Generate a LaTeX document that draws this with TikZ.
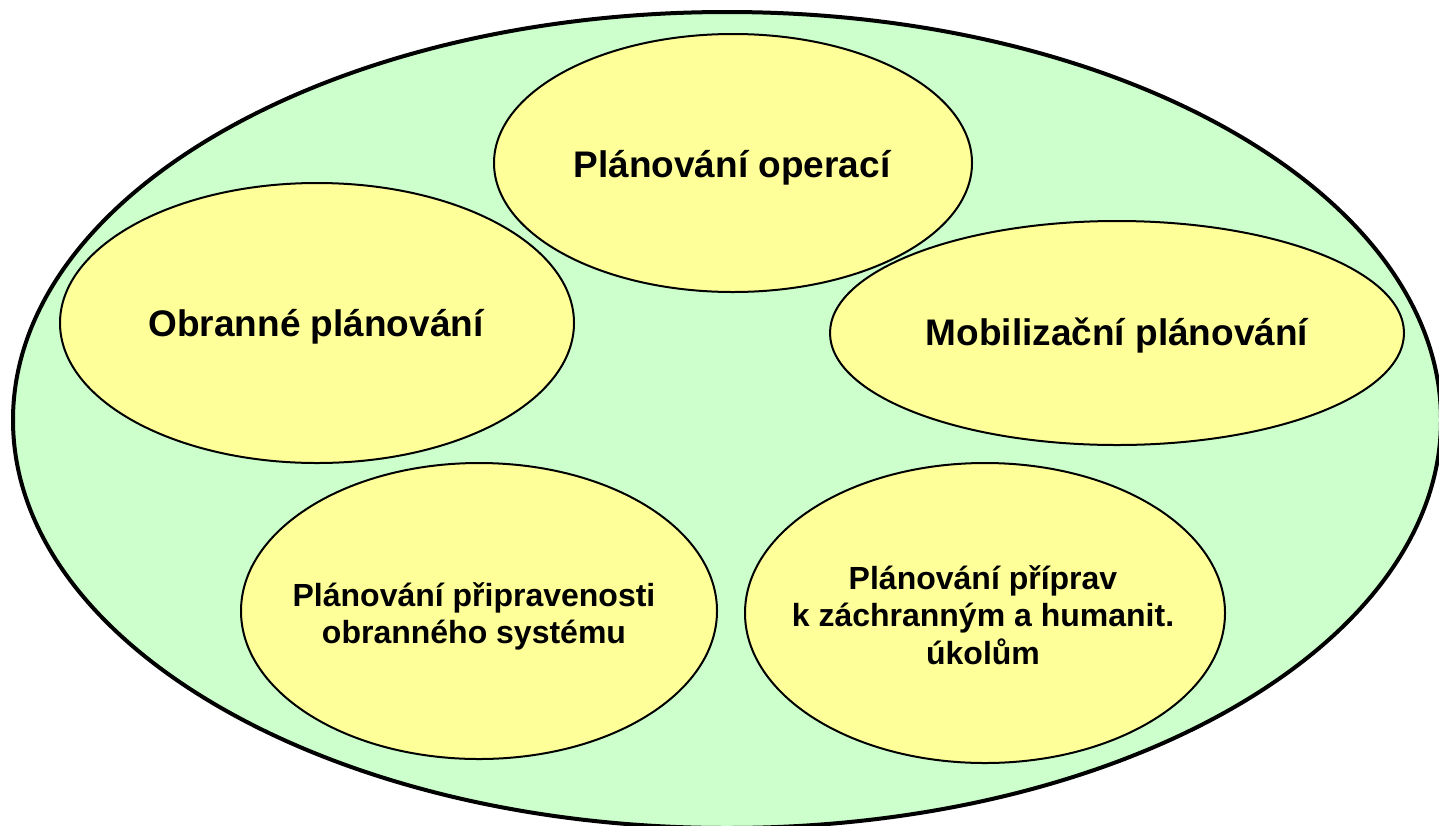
\documentclass[tikz,border=0pt]{standalone}
\usepackage{fontspec}
\setmainfont{Liberation Sans}
\usetikzlibrary{shapes.geometric}
\definecolor{planGreen}{HTML}{CCFFCC}
\definecolor{planYellow}{HTML}{FFFF99}
\begin{document}
\begin{tikzpicture}[x=0.5pt,y=-0.5pt,
  outer/.style={ellipse,draw,line width=2pt,fill=planGreen,inner sep=0pt},
  bubble/.style={ellipse,draw,line width=1pt,fill=planYellow,inner sep=0pt},
  bigtext/.style={font=\fontsize{18.5}{21}\selectfont\bfseries,align=center},
  smalltext/.style={font=\fontsize{16}{18.6}\selectfont\bfseries,align=center}]
\useasboundingbox (0,0) rectangle (1439,825);
\node[outer,minimum width=714pt,minimum height=408pt] (all) at (727,420) {};
% the five kinds of planning
\node[bubble,minimum width=239pt,minimum height=129pt] (ops) at (733,163) {};
\node[bubble,minimum width=257pt,minimum height=140pt] (def) at (317,323) {};
\node[bubble,minimum width=287pt,minimum height=112pt] (mob) at (1117,333) {};
\node[bubble,minimum width=238pt,minimum height=148pt] (rdy) at (479,611) {};
\node[bubble,minimum width=240pt,minimum height=150pt] (hum) at (985,613) {};
\node[bigtext] (opsT) at (732,168) {Plánování operací};
\node[bigtext] (defT) at (316,327) {Obranné plánování};
\node[bigtext] (mobT) at (1117,336) {Mobilizační plánování};
\node[smalltext] (rdyT) at (474,616) {Plánování připravenosti\\obranného systému};
\node[smalltext] (humT) at (983,615) {Plánování příprav\\k záchranným a humanit.\\úkolům};
\end{tikzpicture}
\end{document}
